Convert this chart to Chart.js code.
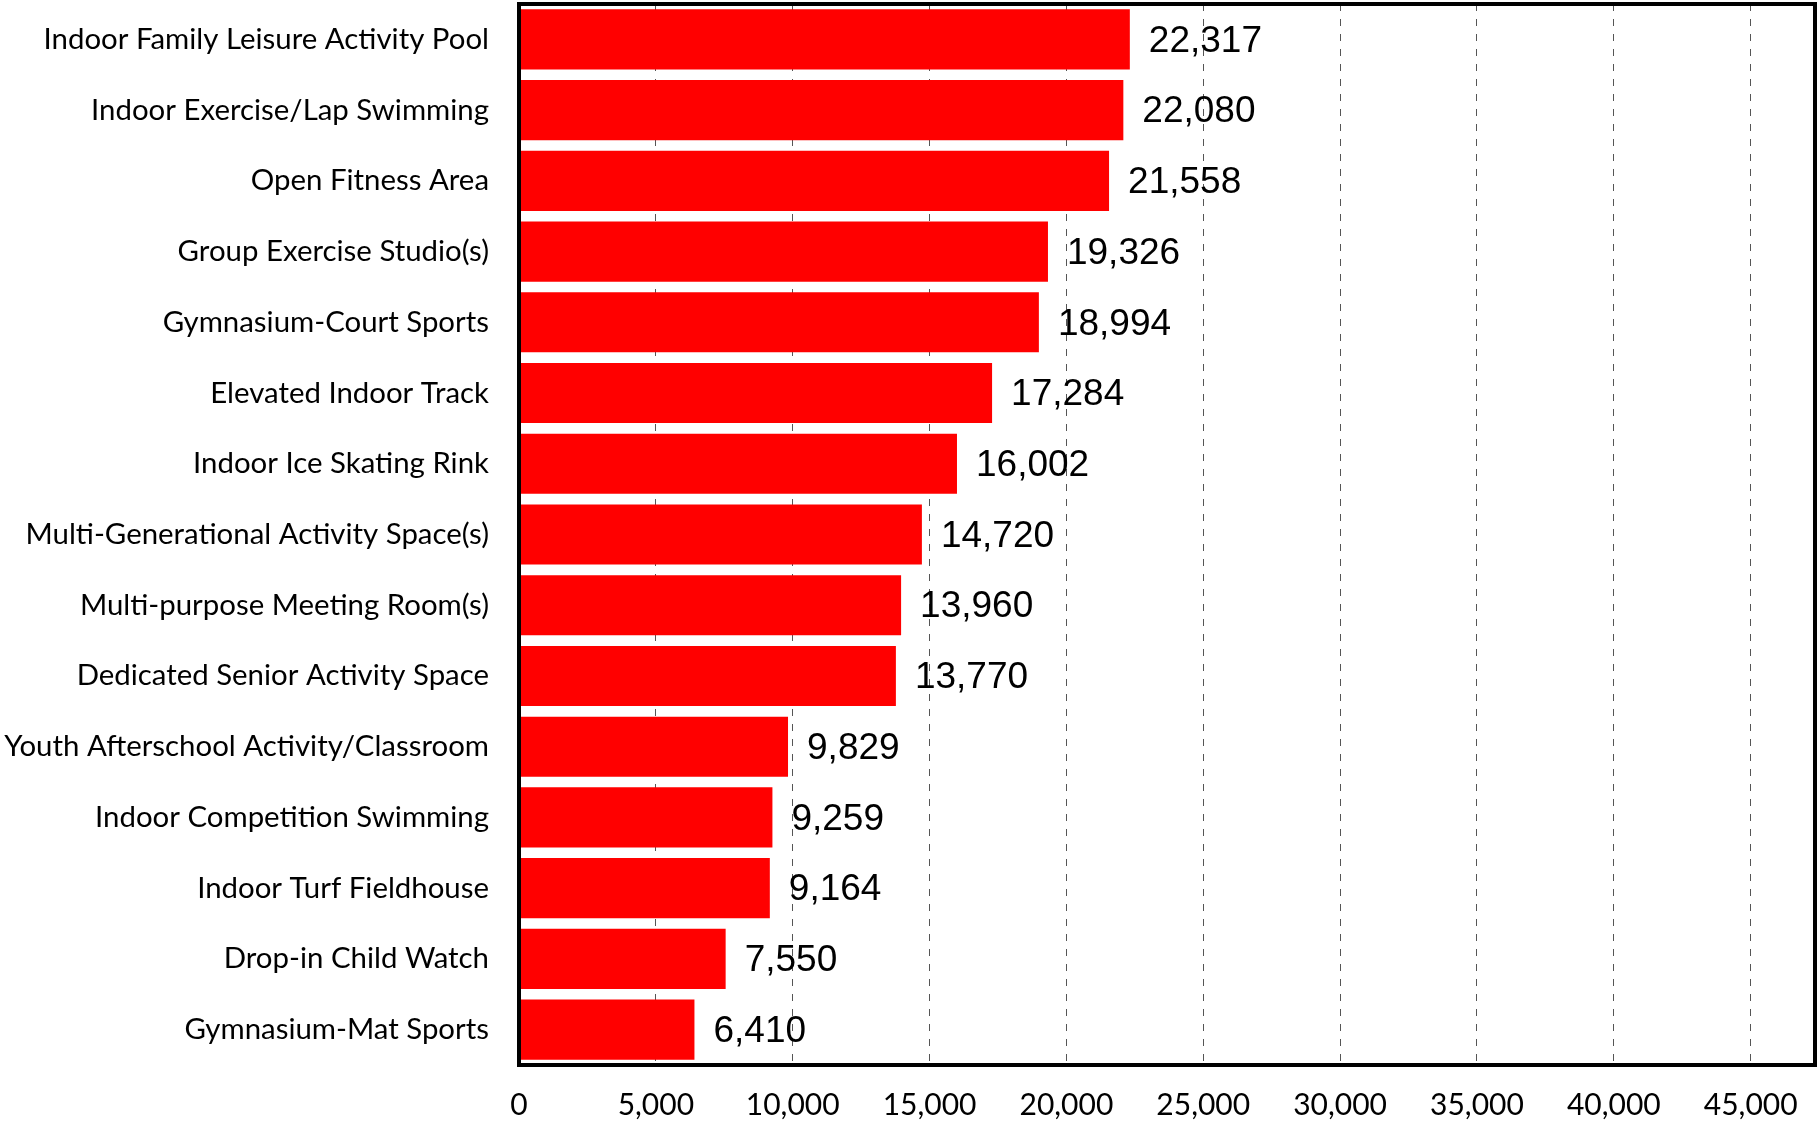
<!DOCTYPE html>
<html>
<head>
<meta charset="utf-8">
<script src="https://cdn.jsdelivr.net/npm/chart.js@4.4.1/dist/chart.umd.min.js"></script>
<style>
  html, body { margin: 0; padding: 0; background: #fff; }
  #wrap { width: 1818px; height: 1121px; }
</style>
</head>
<body>
<div id="wrap"><canvas id="chart" width="1818" height="1121"></canvas></div>
<script>
const categories = [
  'Indoor Family Leisure Activity Pool',
  'Indoor Exercise/Lap Swimming',
  'Open Fitness Area',
  'Group Exercise Studio(s)',
  'Gymnasium-Court Sports',
  'Elevated Indoor Track',
  'Indoor Ice Skating Rink',
  'Multi-Generational Activity Space(s)',
  'Multi-purpose Meeting Room(s)',
  'Dedicated Senior Activity Space',
  'Youth Afterschool Activity/Classroom',
  'Indoor Competition Swimming',
  'Indoor Turf Fieldhouse',
  'Drop-in Child Watch',
  'Gymnasium-Mat Sports'
];
const households = [22317, 22080, 21558, 19326, 18994, 17284, 16002, 14720, 13960, 13770, 9829, 9259, 9164, 7550, 6410];
const tickValues = [0, 5000, 10000, 15000, 20000, 25000, 30000, 35000, 40000, 45000];
const axisMax = 47350;

// value labels to the right of each bar
const valueLabels = {
  id: 'valueLabels',
  afterDatasetsDraw(chart) {
    const ctx = chart.ctx;
    const meta = chart.getDatasetMeta(0);
    ctx.save();
    ctx.font = '37px "Liberation Sans", Arial, sans-serif';
    ctx.fillStyle = '#000';
    ctx.textAlign = 'left';
    ctx.textBaseline = 'middle';
    meta.data.forEach((bar, i) => {
      ctx.fillText(households[i].toLocaleString('en-US'), bar.x + 19, bar.y + 2);
    });
    ctx.restore();
  }
};

// black frame round the plot area
const frame = {
  id: 'frame',
  afterDraw(chart) {
    const a = chart.chartArea;
    const ctx = chart.ctx;
    ctx.save();
    ctx.strokeStyle = '#000';
    ctx.lineWidth = 4;
    ctx.strokeRect(a.left, a.top, a.right - a.left, a.bottom - a.top);
    ctx.restore();
  }
};

new Chart(document.getElementById('chart'), {
  type: 'bar',
  data: {
    labels: categories,
    datasets: [{
      data: households,
      backgroundColor: '#ff0000',
      borderWidth: 0,
      categoryPercentage: 1,
      barPercentage: 0.85
    }]
  },
  options: {
    indexAxis: 'y',
    responsive: false,
    animation: false,
    devicePixelRatio: 1,
    layout: { padding: { top: 4, right: 3, left: 0, bottom: 0 } },
    plugins: {
      legend: { display: false },
      tooltip: { enabled: false }
    },
    scales: {
      x: {
        min: 0,
        max: axisMax,
        afterBuildTicks: (axis) => { axis.ticks = tickValues.map(v => ({ value: v })); },
        afterFit: (axis) => {
          axis.height = 56;
          axis.paddingLeft = 0;
          axis.paddingRight = 0;
        },
        grid: {
          color: '#555',
          lineWidth: 1,
          drawTicks: false
        },
        border: { display: false, dash: [7, 8] },
        ticks: {
          padding: 22,
          color: '#000',
          font: { family: 'Lato', size: 30 },
          maxRotation: 0,
          callback: (v) => Number(v).toLocaleString('en-US')
        }
      },
      y: {
        afterFit: (axis) => {
          axis.width = 519;
          axis.paddingTop = 0;
          axis.paddingBottom = 0;
        },
        border: { display: false },
        grid: { display: false, drawTicks: false },
        ticks: {
          padding: 30,
          color: '#000',
          font: { family: 'Lato', size: 29.4 }
        }
      }
    }
  },
  plugins: [valueLabels, frame]
});
</script>
</body>
</html>
